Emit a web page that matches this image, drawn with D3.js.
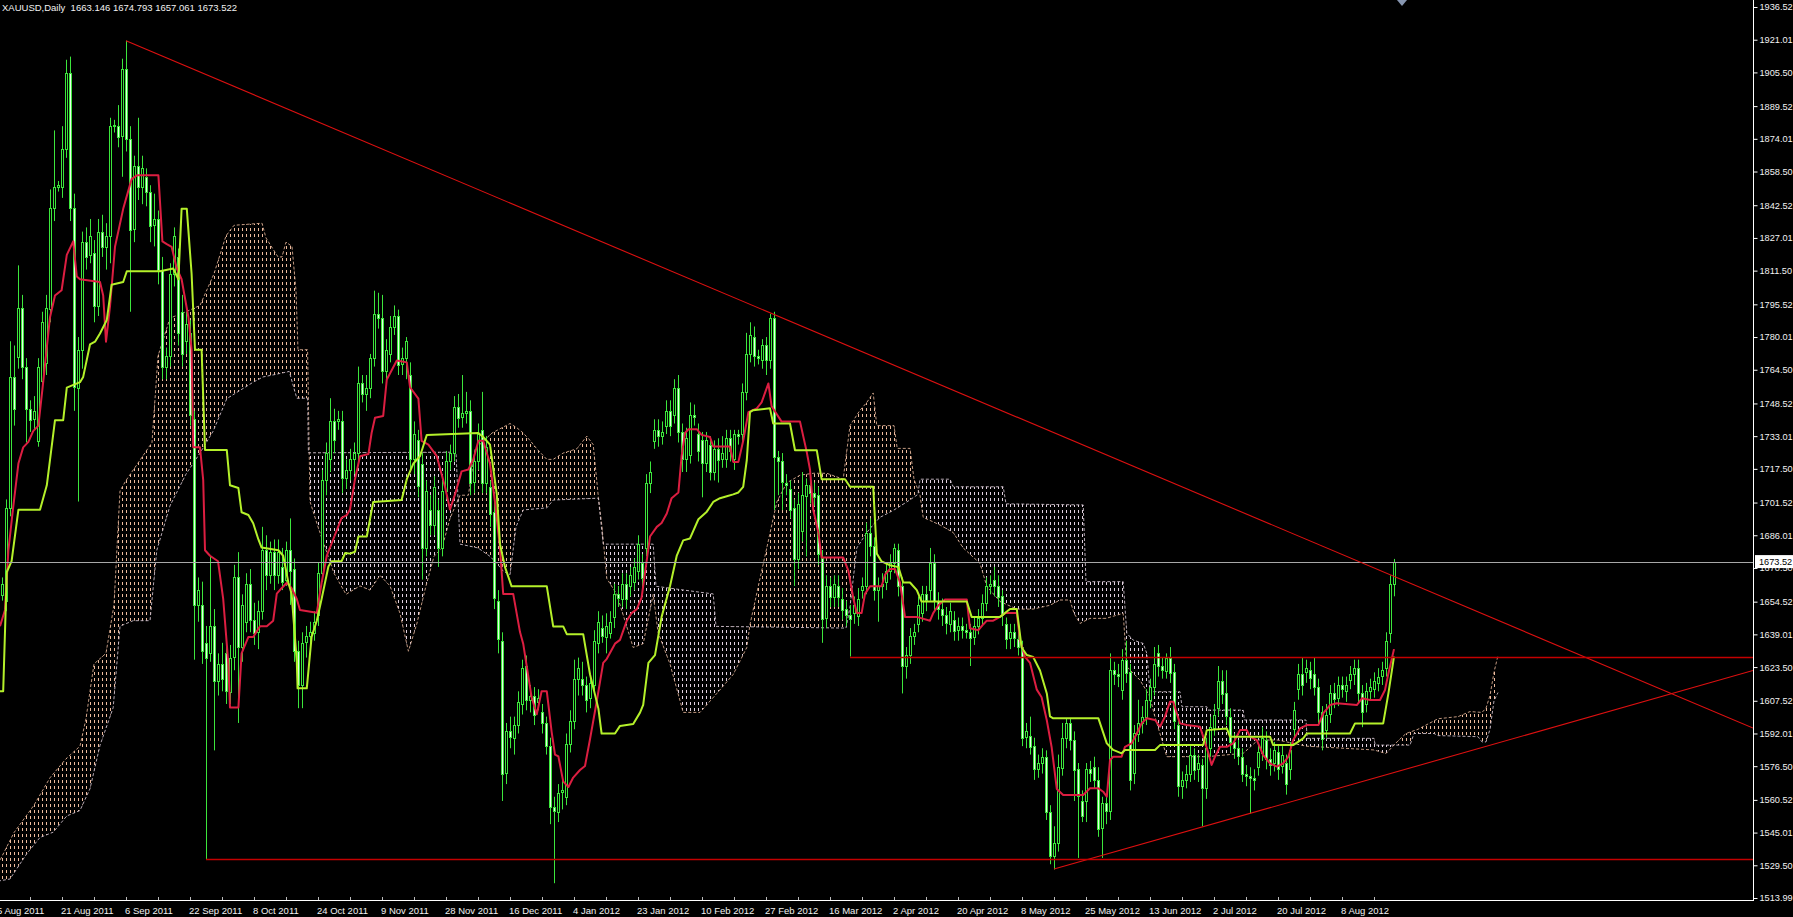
<!DOCTYPE html>
<html><head><meta charset="utf-8">
<script src="https://cdn.jsdelivr.net/npm/d3@7"></script>
<style>html,body{margin:0;padding:0;background:#000;overflow:hidden}svg{display:block}</style>
</head><body><svg id="c" width="1793" height="917"></svg>
<script>
// ---------------- DATA ----------------
const chartTitle = "XAUUSD,Daily  1663.146 1674.793 1657.061 1673.522";
const lastPrice = 1673.52;
const priceTicks = [1936.52,1921.01,1905.50,1889.52,1874.01,1858.50,1842.52,1827.01,1811.50,1795.52,1780.01,1764.50,1748.52,1733.01,1717.50,1701.52,1686.01,1670.50,1654.52,1639.01,1623.50,1607.52,1592.01,1576.50,1560.52,1545.01,1529.50,1513.99];
const dateLabels = ["5 Aug 2011","21 Aug 2011","6 Sep 2011","22 Sep 2011","8 Oct 2011","24 Oct 2011","9 Nov 2011","28 Nov 2011","16 Dec 2011","4 Jan 2012","23 Jan 2012","10 Feb 2012","27 Feb 2012","16 Mar 2012","2 Apr 2012","20 Apr 2012","8 May 2012","25 May 2012","13 Jun 2012","2 Jul 2012","20 Jul 2012","8 Aug 2012"];
const dateLabelBars = [0,16,32,48,64,80,96,112,128,144,160,176,192,208,224,240,256,272,288,304,320,336];

const opens = [
1655,1658,1655,1699,1761,1771,1794,1766,1746,1741,
1731,1759,1768,1793,1841,1851,1851,1869,1905,1841,
1756,1774,1825,1819,1820,1795,1830,1823,1828,1880,
1880,1875,1907,1874,1831,1861,1851,1856,1849,1833,
1836,1812,1766,1771,1810,1818,1792,1778,1782,1741,
1653,1653,1635,1630,1643,1617,1625,1630,1612,1628,
1666,1633,1645,1663,1646,1640,1650,1679,1667,1678,
1667,1671,1665,1679,1670,1631,1615,1635,1638,1640,
1648,1668,1712,1722,1740,1740,1740,1713,1717,1722,
1725,1758,1753,1756,1770,1791,1789,1764,1772,1785,
1790,1767,1770,1762,1722,1731,1720,1680,1698,1691,
1698,1680,1707,1721,1725,1747,1742,1744,1745,1711,
1721,1736,1711,1709,1697,1655,1636,1573,1593,1590,
1596,1606,1624,1608,1610,1607,1602,1597,1586,1557,
1555,1564,1562,1587,1598,1618,1618,1615,1609,1615,
1635,1642,1638,1640,1647,1658,1656,1663,1662,1664,
1669,1673,1680,1711,1731,1736,1733,1738,1745,1743,
1756,1735,1722,1724,1743,1734,1731,1720,1729,1716,
1727,1722,1722,1732,1722,1734,1734,1754,1772,1780,
1770.8,1769,1776,1769,1789,1723,1721,1711,1708,1699,
1675,1688,1705,1710,1706,1705,1675,1647,1662,1657,
1662,1656,1651,1648,1649,1648,1660,1662,1687,1681,
1660,1662,1664,1669,1673,1679,1662,1624,1629,1638,
1644,1649,1658,1660,1673,1655,1651,1648,1644,1646,
1641,1643,1641,1640,1638,1643,1647,1654,1662,1665,
1662,1657,1644,1637,1640,1637,1633,1590,1591,1586,
1575,1578,1581,1555,1534,1540,1576,1590,1597,1589,
1575,1560,1560,1575,1576,1570,1547,1559,1555,1622,
1620,1613,1627,1621,1573,1592,1597,1600,1608,1614,
1630,1624,1622,1628,1621,1596,1567,1570,1573,1582,
1575,1577,1566,1585,1595,1604,1617,1611,1600,1588,
1585,1581,1573,1572,1571,1576,1583,1589,1580,1578,
1583,1577,1578,1575,1594,1613,1620,1621,1622,1620,
1614,1602,1594,1601,1611,1609,1615,1612,1617,1620,
1623,1611,1606,1612,1613,1616,1619,1623,1640,1663.146];
const highs = [
1668,1666,1703,1778,1776,1814,1800,1770,1750,1752,
1770,1792,1800,1850,1878,1854,1880,1911.5,1913,1848,
1780,1830,1832,1836,1826,1836,1838,1834,1884,1883,
1890,1912,1920.5,1880,1866,1884,1866,1860,1852,1848,
1840,1818,1775,1815,1832,1822,1800,1792,1788,1745,
1666,1664,1643,1676,1651,1630,1635,1636,1634,1672,
1678,1658,1668,1670,1654,1655,1690,1686,1683,1684,
1684,1680,1683,1694,1675,1636,1640,1643,1645,1650,
1673,1717,1730,1751,1746,1745,1745,1722,1727,1730,
1766,1762,1762,1772,1802,1801,1800,1779,1790,1795,
1793,1775,1780,1768,1740,1736,1725,1712,1705,1714,
1703,1712,1726,1729,1752,1753,1762,1754,1750,1726,
1739,1754,1733,1712,1702,1660,1640,1597,1600,1600,
1612,1627,1629,1615,1614,1613,1606,1600,1590,1562,
1568,1570,1592,1603,1627,1628,1626,1619,1620,1641,
1650,1648,1649,1650,1663,1662,1668,1668,1671,1675,
1686,1677,1715,1721,1741,1741,1740,1750,1750,1760,
1762,1739,1737,1749,1748,1739,1735,1735,1733,1731,
1732,1733,1736,1736,1736,1736,1758,1782,1787,1785,
1774,1779,1780,1791,1792,1726,1725,1715,1712,1703,
1706,1716,1713,1715,1711,1709,1679,1667,1666,1667,
1667,1661,1655,1653,1657,1661,1666,1692,1694,1685,
1666,1668,1673,1677,1682,1682,1666,1633,1642,1644,
1657,1662,1662,1680,1677,1659,1656,1652,1654,1650,
1647,1647,1644,1644,1647,1651,1658,1666,1667,1671,
1667,1660,1647,1644,1644,1642,1636,1597,1600,1590,
1582,1585,1584,1558,1548,1582,1597,1599,1599,1593,
1578,1565,1578,1579,1581,1576,1562,1563,1630,1626,
1625,1632,1636,1625,1596,1608,1605,1613,1618,1633,
1634,1628,1630,1633,1625,1599,1574,1577,1587,1585,
1582,1580,1590,1600,1606,1624,1622,1622,1604,1592,
1589,1585,1577,1576,1575,1587,1595,1593,1585,1588,
1587,1586,1582,1588,1607,1625,1628,1627,1626,1628,
1618,1605,1606,1615,1616,1619,1619,1619,1624,1627,
1627,1615,1616,1618,1621,1623,1626,1640,1667,1674.793];
const lows = [
1648,1655,1650,1695,1738,1765,1760,1730,1735,1736,
1728,1755,1762,1787,1835,1849,1846,1865,1835,1745,
1702,1765,1812,1815,1787,1790,1818,1812,1815,1877,
1870,1856,1868,1792,1825,1845,1843,1842,1825,1823,
1805,1760,1760,1766,1804,1776,1766,1772,1738,1627,
1645,1625,1532,1626,1584,1610,1612,1606,1606,1622,
1597,1626,1640,1640,1634,1632,1646,1660,1663,1660,
1663,1660,1662,1653,1626,1604,1604,1628,1634,1636,
1643,1664,1705,1716,1725,1736,1706,1708,1712,1715,
1720,1749,1745,1751,1766,1784,1758,1757,1768,1781,
1762,1762,1760,1716,1715,1704,1665,1676,1686,1686,
1671,1676,1703,1717,1721,1737,1737,1739,1705,1706,
1717,1706,1706,1690,1651,1630,1560,1568,1585,1582,
1592,1601,1603,1602,1596,1603,1592,1582,1549,1521,
1550,1556,1558,1583,1594,1610,1610,1602,1604,1611,
1630,1635,1630,1637,1642,1652,1652,1651,1657,1660,
1665,1661,1676,1706,1727,1728,1729,1734,1733,1739,
1730,1716,1716,1720,1738,1721,1704,1716,1712,1712,
1711,1718,1718,1721,1717,1729,1730,1750,1768,1766,
1767,1765,1762,1765,1698,1705,1698,1705,1694,1662,
1670,1683,1676,1701,1700,1672,1635,1642,1652,1652,
1652,1646,1643,1628.5,1644,1643,1656,1658,1676,1655,
1645,1656,1660,1665,1668,1657,1611,1618,1625,1634,
1640,1645,1650,1655,1650,1646,1643,1639,1640,1636,
1636,1637,1637,1624,1634,1639,1643,1650,1658,1657,
1652,1643,1632,1632,1633,1629,1586,1585,1582,1570,
1571,1573,1551,1530,1527.5,1536,1572,1585,1584,1560,
1533,1550,1550,1569,1566,1543,1533,1549,1551,1615,
1614,1608,1616,1565,1568,1588,1592,1596,1604,1610,
1619,1618,1618,1616,1594,1562,1561,1566,1569,1570,
1569,1548,1561,1581,1591,1600,1606,1596,1583,1580,
1577,1569,1567,1554,1565,1572,1579,1575,1572,1574,
1570,1573,1563,1570,1589,1608,1610,1616,1613,1610,
1597,1584,1590,1597,1604,1605,1609,1607,1613,1615,
1606,1595,1602,1608,1609,1612,1615,1619,1635,1657.061];
const closes = [
1660,1663,1699,1761,1746,1794,1766,1746,1741,1745,
1766,1787,1794,1841,1851,1852,1869,1905,1841,1756,
1774,1825,1818,1828,1795,1830,1823,1828,1880,1880.5,
1875,1907,1874,1831,1861,1851,1860,1849,1833,1836,
1812,1766,1771,1810,1828,1782,1772,1786,1743,1653,
1660,1631,1628,1643,1617,1625,1618,1612,1628,1666,
1633,1653,1663,1646,1640,1650,1679,1667,1678,1667,
1678,1664,1679,1669,1631,1615,1635,1638,1640,1645,
1668,1712,1725,1740,1731,1741,1713,1717,1722,1725,
1758,1753,1756,1770,1791,1789,1764,1774,1785,1790,
1767,1770,1778,1722,1734,1709,1680,1707,1691,1709,
1680,1707,1721,1725,1747,1742,1744,1745,1711,1721,
1734,1711,1728,1696,1656,1637,1573,1593,1590,1596,
1607,1623,1608,1610,1601,1609,1597,1586,1557,1555,
1564,1565,1587,1598,1618,1623,1615,1608,1616,1636,
1645,1638,1643,1645,1658,1656,1663,1656,1667,1671,
1682,1666,1711,1716,1736,1733,1735,1745,1738,1756,
1735,1722,1732,1743,1742,1726,1720,1731,1716,1727,
1722,1725,1732,1726,1734,1733,1754,1772,1781,1771,
1770,1776,1769,1789,1723,1721,1711,1710,1698,1675,
1701,1705,1710,1706,1704,1677,1646,1662,1657,1663,
1657,1651,1648,1646,1653,1656,1662,1687,1681,1660,
1662,1663,1669,1673,1680,1662,1624,1629,1638,1640,
1653,1658,1655,1673,1655,1651,1648,1644,1650,1641,
1643,1641,1640,1637,1643,1647,1654,1662,1663,1662,
1657,1648,1637,1640,1637,1633,1590,1593,1586,1575,
1578,1581,1555,1534,1540,1576,1590,1597,1589,1575,
1562,1553,1575,1573,1570,1547,1559,1555,1622,1620,
1619,1627,1621,1570,1592,1597,1600,1608,1614,1625,
1624,1622,1628,1621,1598,1567,1570,1573,1582,1575,
1578,1566,1585,1595,1601,1617,1611,1600,1588,1585,
1581,1573,1572,1571,1570,1583,1590,1580,1577,1584,
1575,1582,1568,1584,1603,1620,1615,1623,1618,1614,
1602,1589,1601,1611,1608,1615,1613,1615,1620,1623,
1611,1602,1612,1614,1617,1619,1622,1636,1663,1673.522];

// Ichimoku lines: [bar, price]
const tenkan = [[0.5,1642.9],[1.75,1650.6],[2.6,1678.9],[3.8,1699.4],[5.1,1720],[6.3,1727.7],[7.6,1730.3],[8.8,1735.4],[10.1,1738],[11.3,1758.6],[13,1789.4],[14.25,1799.7],[15.9,1802.2],[17.2,1819],[18.8,1825.4],[19.7,1808.7],[20.5,1807.4],[25.5,1806.1],[26.3,1799.7],[27,1777.8],[28,1794.5],[29.25,1822.8],[31.3,1840.8],[33.4,1854.9],[34.7,1856.7],[40.1,1856.7],[41.1,1825.4],[42.2,1824.1],[43.4,1822.8],[44.7,1812.5],[45.9,1807.4],[47.6,1789.4],[48.4,1774],[48.8,1727.7],[50.5,1727.7],[51.3,1712.3],[51.75,1678.9],[53,1676.3],[55,1673.7],[56.3,1655.8],[57.6,1624.9],[58,1604.3],[60.1,1604.3],[60.9,1630],[62.6,1637.8],[63.8,1637.8],[65.5,1642.9],[67.2,1642.9],[68.8,1645.5],[69.7,1658.3],[70.9,1660.9],[72.2,1663.5],[73.4,1660.9],[74.7,1655.8],[75.5,1650.6],[79.7,1649.3],[80.9,1663.5],[82.2,1676.3],[83.8,1684],[85.9,1694.3],[87.2,1695.6],[88,1698.2],[89.25,1712.6],[90.5,1723.5],[92.6,1724.5],[93.4,1734.5],[94.25,1741.7],[96.3,1742.6],[97.2,1759.9],[99.7,1768.9],[102.2,1768],[103,1756.2],[105.1,1750.8],[105.9,1730.8],[107.6,1729],[109.7,1723.5],[111.75,1709],[113,1698.2],[114.25,1705.4],[115.9,1716.3],[117.6,1717.2],[118.8,1721.8],[120.1,1730.8],[121.3,1730.8],[123,1719.9],[124.25,1701.8],[125.5,1680],[126.3,1658.2],[128.8,1658.2],[130.5,1640.1],[131.3,1634.6],[132.2,1623.7],[133.4,1609.2],[134.7,1601.1],[135.9,1612],[137.2,1612],[138.4,1592.9],[139.25,1582],[140.1,1581.1],[141.3,1569.3],[142.6,1566.6],[143.8,1571.1],[145.5,1574.7],[146.75,1576.6],[148,1589.3],[149.7,1607.4],[151.3,1625.5],[152.2,1627.4],[154.25,1634.6],[155.5,1636.4],[157.2,1645.5],[158.4,1649.1],[159.7,1651],[160.9,1656.4],[163,1685.4],[164.7,1690],[165.9,1691.8],[167.2,1696.3],[168.4,1703.6],[170.1,1706.3],[170.9,1723.5],[171.75,1734.5],[172.6,1736.3],[174.7,1736.3],[175.9,1733.6],[178,1732.6],[178.8,1728.1],[183,1728.1],[183.8,1720.8],[185.1,1720.8],[186.3,1730.8],[187.6,1744.4],[189.7,1746.2],[190.9,1749],[192.6,1758],[193.4,1747.2],[195.9,1739.9],[200.5,1739.9],[202.2,1725.4],[203,1717.2],[203.8,1698.2],[205.1,1687.3],[205.9,1675.5],[211.3,1675.5],[212.6,1669.1],[213.8,1656.4],[214.7,1649.1],[215.9,1649.1],[216.75,1658.2],[218,1661.8],[220.9,1661.8],[221.75,1667.3],[223,1670],[224.25,1670],[225.5,1663.6],[226.75,1647.3],[229.7,1647.3],[233,1645.5],[233.8,1649.1],[235.1,1652.8],[236.75,1655.5],[242.2,1655.5],[243,1641.9],[245.1,1641],[246.3,1643.7],[247.2,1645.5],[248.8,1645.5],[250.5,1647.3],[251.75,1649.1],[254.7,1649.1],[255.5,1636.4],[256.75,1628.3],[258,1625.5],[259.7,1612.8],[260.9,1609.2],[262.2,1598.3],[263.4,1585.6],[264.7,1565.7],[266.3,1562.8],[271.3,1562.8],[273,1566],[275.1,1566],[276.3,1564.4],[277.2,1562],[278,1579.4],[278.8,1581],[280.9,1581],[281.75,1585.7],[283.4,1587.3],[284.7,1592],[285.9,1596.8],[287.2,1599.2],[289.25,1598.4],[290.5,1595.2],[291.75,1600],[293,1607.1],[293.8,1607.1],[294.7,1601.5],[295.5,1596.8],[297.2,1596],[300.5,1595.2],[301.3,1590.5],[302.6,1582.6],[303.4,1577.1],[304.25,1581],[305.5,1585.7],[307.2,1585.7],[308.8,1587.3],[310.5,1593.6],[312.2,1593.6],[313,1590.5],[314.7,1588.9],[316.3,1581.8],[318,1577.8],[319.7,1576.3],[321.3,1577.8],[322.6,1581],[323.8,1588.9],[325.5,1594.4],[327.2,1596],[330.1,1596],[331.3,1601.5],[333,1605.5],[334.7,1606.3],[339.7,1605.5],[341,1608.7],[343,1607.9],[345.5,1607.9],[346.75,1612.6],[347.6,1620.5],[349,1632]];
const kijun = [[0.5,1612],[1.3,1612],[2.2,1668.6],[3.4,1673.7],[5.1,1698.1],[10.5,1698.1],[12.2,1709.7],[14.25,1740.6],[16.3,1740.6],[17.2,1756],[20.5,1758.6],[21.3,1761.1],[23,1776.5],[24.25,1777.8],[25.5,1781.7],[27.2,1788.1],[28.4,1804.8],[31.3,1806.1],[32.2,1811.2],[40.5,1811.2],[43.8,1812.5],[45.1,1807.4],[45.9,1840.8],[47.2,1840.8],[48.4,1810],[49.25,1774],[50.9,1774],[51.75,1726.4],[57.2,1726.4],[58,1709.7],[60.1,1708.4],[60.9,1696.9],[62.6,1695.6],[63.8,1691.7],[65.1,1684],[65.9,1680.2],[70.1,1678.9],[71.3,1676.3],[72.6,1663.5],[73.4,1658.3],[74.7,1626.2],[74.9,1613.4],[77.2,1613.4],[78.4,1637.8],[79.7,1645.5],[80.9,1655.8],[82.6,1671.2],[83.4,1673.7],[85.9,1673.7],[86.8,1677.6],[88,1677.3],[89.25,1678.2],[90.1,1685.4],[92.2,1685.4],[93.8,1701.8],[100.9,1702.7],[102.2,1712.6],[103.8,1719.9],[105.5,1723.5],[107.2,1733.6],[120.1,1734.5],[121.3,1732.6],[123,1729],[124.7,1705.4],[125.5,1681.8],[126.75,1670.9],[128.4,1661.8],[137.2,1661.8],[138.8,1642.8],[141.3,1642.8],[142.2,1639.1],[146.3,1639.1],[148,1620.1],[150.1,1603.8],[150.9,1592],[154.25,1592],[155.5,1595.6],[158.8,1596.5],[160.5,1601.9],[161.3,1605.6],[162.6,1625.5],[164.25,1629.2],[165.9,1647.3],[168,1661.8],[169.7,1676.4],[171.3,1683.6],[173,1684.5],[175.1,1693.6],[177.2,1697.2],[178.8,1701.8],[180.5,1703.6],[182.2,1704.5],[183.8,1705.4],[185.1,1706.3],[186.3,1709],[187.2,1721.7],[188,1744.4],[188.8,1745.3],[193,1746.2],[193.8,1739],[198,1739],[199.25,1726.3],[204.7,1726.3],[205.9,1712.6],[211.75,1712.6],[213,1709],[218.8,1709],[219.7,1677.3],[220.9,1673.6],[223,1671.8],[225.1,1670.9],[226.3,1663.6],[228,1663.6],[229.7,1660],[230.9,1654.6],[242.2,1654.6],[243.4,1647.3],[250.5,1647.3],[251.75,1649.1],[253,1651],[254.7,1651],[255.9,1632.8],[257.2,1629.2],[258.8,1628.3],[260.5,1621.9],[262.2,1611],[263,1600.1],[263.8,1599.2],[275.1,1599.2],[277.2,1587.3],[278.8,1584.2],[280.9,1582.6],[281.75,1584.2],[289.25,1584.2],[290.5,1586.5],[301.3,1586.5],[302.2,1593.6],[307.2,1594.4],[308,1590.5],[318,1590.5],[318.8,1586.5],[323.8,1586.5],[326.3,1589.7],[327.2,1592],[338,1592],[339.25,1596.8],[346.3,1596.8],[347.6,1611],[349,1628.5]];
const senkouA = [[0,1530],[4,1545],[9,1558],[13,1571],[17,1580],[20.5,1586],[22,1599],[24,1625],[27,1630],[29,1653],[30.5,1707],[32,1712],[36,1723],[38.5,1730],[40,1771],[43,1789],[47,1792],[50.5,1795],[54,1810],[57,1828],[59,1833],[66,1834],[67,1827],[70,1818],[71,1818],[72,1825],[73.5,1823],[74.5,1802],[75,1774],[77.4,1774],[78,1702],[80,1690],[84,1668],[87,1658],[90.5,1662],[93,1660],[95.5,1667],[98,1662],[100.5,1649],[102.6,1631],[104.7,1644],[107,1662],[109,1676],[111,1680],[113,1694],[115.5,1705],[117.6,1705],[119.3,1727],[123.5,1734.5],[128,1739],[129.7,1737],[131.3,1734.5],[133,1731],[134.7,1727],[137.2,1722],[138.8,1722],[141.3,1725],[144.7,1727],[147.2,1733],[148.8,1729],[150.1,1704],[151,1690],[152.2,1665.5],[154.7,1658],[158.8,1632.8],[161.3,1634.6],[163.8,1658],[165,1640],[168,1625],[171.3,1602],[175.5,1602],[179.7,1611],[183.8,1620],[187.2,1632.8],[188,1643.7],[190.5,1665.5],[192.2,1680],[194.7,1701.8],[197.2,1710.9],[200.5,1714.5],[203.8,1715.4],[207.2,1715.4],[211.3,1712.6],[213,1738],[215.5,1745.3],[217.2,1749],[218.8,1753.5],[219.7,1738],[224,1738],[224.8,1727.2],[228,1727.2],[229,1712.6],[230.5,1705],[231.3,1694.5],[235.5,1690.9],[238.8,1687.3],[241.3,1680],[245.5,1672.7],[247.2,1661.8],[250.5,1654.6],[254.7,1651],[258.8,1651],[263,1652.8],[265.5,1655.3],[268,1655.3],[269,1649],[270.5,1644.2],[273,1646.6],[277,1646.6],[281.3,1649],[282.2,1623.7],[285.5,1617.3],[288,1609.5],[289,1601.5],[292.2,1581],[302.2,1581],[311.3,1582.6],[315,1588.9],[320,1588.9],[327,1586],[344,1584.2],[347,1582.5],[350,1588.5],[352,1592],[355,1594],[360,1599],[365,1600],[368,1602.4],[371,1602],[372,1604],[373,1610],[374,1621],[375,1629]];
const senkouB = [[0,1522],[3,1523],[7.2,1535],[10.5,1542.7],[13.8,1545.2],[17.2,1552.9],[20.5,1555.5],[23,1565.8],[25.5,1586.4],[28.8,1604.3],[30.5,1642.9],[33.8,1645.5],[38,1645.5],[39.7,1678.9],[43,1700],[47,1715],[50.5,1725],[53.8,1735.4],[57.2,1750.8],[63.8,1758.6],[66.3,1761.1],[69.7,1762.4],[72.8,1763.7],[74.7,1751],[77.4,1751],[77.6,1725.1],[114.5,1725.4],[115.5,1681.8],[120,1680],[123,1676],[124.7,1672.7],[126.3,1669],[128,1667.3],[129.5,1690],[131.3,1698],[137.2,1699],[138.8,1702.7],[150.1,1703.6],[151.3,1681.8],[163.8,1681.8],[164.5,1661.8],[175.5,1659],[178.8,1658.2],[179.5,1642.8],[212,1642],[213,1652],[214.7,1680],[217.2,1687.3],[218.8,1691],[220.5,1694.5],[224,1698],[227.2,1701.8],[230,1705.4],[230.5,1712.6],[238,1712.6],[238.8,1709],[251.3,1709],[252,1700.9],[271.3,1700.4],[272,1664],[281.3,1664],[282.2,1639.5],[283.8,1636.3],[286.3,1634.7],[287.2,1630],[288,1611.8],[295.5,1611.8],[296,1604.7],[302.2,1604.7],[302.5,1603.1],[311.3,1603.1],[311.6,1598.4],[327,1598.4],[327.3,1589.7],[344,1589.7],[344.3,1586.5],[353,1586.5],[354,1592],[359,1592],[360,1591],[370,1590.5],[371,1588],[372,1588],[373,1594],[374,1607.5],[375,1611.4]];

// drawn objects: anchors [bar, price]
const trendDown = [[32,1920.5],[194,1790.7]];
const trendUp = [[264,1527.7],[313,1554.1]];
const supportLine = [[52,1532.3]];
const resistanceLine = [[213,1628.4]];
const shiftMarkerBar = 351;

// ---------------- DRAW ----------------
const W = 1793, H = 917, plotRight = 1753, plotBottom = 900;
const FONT = "Liberation Sans, Arial, sans-serif";
const C = {bg:"#000", candle:"#3ce63c", bear:"#e6ffe6", tenkan:"#dc1e41", kijun:"#b4f02a",
  cloudA:"#eebc9e", cloudB:"#e2d2e0", trend:"#dd1010", hline:"#c40000", price:"#a8a8a8", axis:"#ffffff", text:"#f2f2f2"};
const barCount = opens.length;
const lastBarEdge = 438.75;

const svg = d3.select("#c");
const x = d3.scaleLinear().domain([0, lastBarEdge]).range([-2, plotRight]);
const y = d3.scaleLinear().domain([1513.99, 1936.52]).range([898, 7]);

svg.append("rect").attr("width", W).attr("height", H).attr("fill", C.bg);
const defs = svg.append("defs");
defs.append("clipPath").attr("id","plotClip").append("rect")
  .attr("x",0).attr("y",0).attr("width",plotRight).attr("height",plotBottom);
function hatch(id, color){
  const p = defs.append("pattern").attr("id",id).attr("patternUnits","userSpaceOnUse")
    .attr("x",0).attr("y",0).attr("width",4).attr("height",6);
  p.append("rect").attr("x",2).attr("y",0).attr("width",1).attr("height",3).attr("fill",color);
}
hatch("hatchA", C.cloudA); hatch("hatchB", C.cloudB);

const lineGen = d3.line().x(d => x(d[0])).y(d => y(d[1]));
const bStart = senkouB[0][0], bEnd = senkouB[senkouB.length-1][0];
defs.append("clipPath").attr("id","aboveB").append("path")
  .attr("d", lineGen(senkouB) + `L${x(bEnd)},-20L${x(bStart)},-20Z`);
defs.append("clipPath").attr("id","belowB").append("path")
  .attr("d", lineGen(senkouB) + `L${x(bEnd)},1000L${x(bStart)},1000Z`);

const plot = svg.append("g").attr("clip-path","url(#plotClip)");

// cloud
const cloudPath = lineGen(senkouA.concat(senkouB.slice().reverse())) + "Z";
plot.append("g").attr("clip-path","url(#aboveB)").append("path")
  .attr("d", cloudPath).attr("fill","url(#hatchA)").attr("fill-rule","evenodd");
plot.append("g").attr("clip-path","url(#belowB)").append("path")
  .attr("d", cloudPath).attr("fill","url(#hatchB)").attr("fill-rule","evenodd");
plot.append("path").attr("d", lineGen(senkouA)).attr("fill","none").attr("opacity",0.8)
  .attr("stroke", C.cloudA).attr("stroke-width",1).attr("stroke-dasharray","3,2");
plot.append("path").attr("d", lineGen(senkouB)).attr("fill","none").attr("opacity",0.8)
  .attr("stroke", C.cloudB).attr("stroke-width",1).attr("stroke-dasharray","3,2");

// candles
const bars = d3.range(barCount);
const cg = plot.append("g");
cg.selectAll("line.wick").data(bars).join("line")
  .attr("x1", i => Math.round(x(i)) + 0.5).attr("x2", i => Math.round(x(i)) + 0.5)
  .attr("y1", i => y(highs[i])).attr("y2", i => y(lows[i]))
  .attr("stroke", C.candle).attr("stroke-width", 1);
cg.selectAll("rect.body").data(bars).join("rect")
  .attr("x", i => Math.round(x(i)) - 0.5).attr("width", 2)
  .attr("y", i => Math.round(y(Math.max(opens[i], closes[i]))) + 0.5)
  .attr("height", i => Math.max(1, Math.round(Math.abs(y(opens[i]) - y(closes[i])))))
  .attr("fill", i => closes[i] >= opens[i] ? "#000" : C.bear)
  .attr("stroke", C.candle).attr("stroke-width", 1);

// Ichimoku lines
plot.append("path").attr("d", lineGen(tenkan)).attr("fill","none")
  .attr("stroke", C.tenkan).attr("stroke-width",2).attr("stroke-linejoin","round");
plot.append("path").attr("d", lineGen(kijun)).attr("fill","none")
  .attr("stroke", C.kijun).attr("stroke-width",2).attr("stroke-linejoin","round");

// price line
plot.append("line").attr("x1",0).attr("x2",plotRight)
  .attr("y1", Math.round(y(lastPrice))+0.5).attr("y2", Math.round(y(lastPrice))+0.5)
  .attr("stroke", C.price).attr("stroke-width",1);

// trend lines (rays extended to the right edge)
function extend(a){ const s=(a[1][1]-a[0][1])/(a[1][0]-a[0][0]); return [a[0],[lastBarEdge, a[0][1]+s*(lastBarEdge-a[0][0])]]; }
[trendDown, trendUp].forEach(a => {
  plot.append("path").attr("d", lineGen(extend(a))).attr("fill","none")
    .attr("stroke", C.trend).attr("stroke-width",1.1);
});
[supportLine, resistanceLine].forEach(a => {
  const yy = Math.round(y(a[0][1])) + 0.5;
  plot.append("line").attr("x1", x(a[0][0])).attr("x2", plotRight).attr("y1", yy).attr("y2", yy)
    .attr("stroke", C.hline).attr("stroke-width",1.6);
});

// axes
svg.append("line").attr("x1",plotRight+0.5).attr("x2",plotRight+0.5).attr("y1",0).attr("y2",plotBottom+1)
  .attr("stroke",C.axis).attr("stroke-width",1);
svg.append("line").attr("x1",0).attr("x2",plotRight+1).attr("y1",plotBottom+0.5).attr("y2",plotBottom+0.5)
  .attr("stroke",C.axis).attr("stroke-width",1);

const yAxis = d3.axisRight(y).tickValues(priceTicks).tickFormat(d3.format(".2f")).tickSize(4).tickPadding(2);
const ya = svg.append("g").attr("transform",`translate(${plotRight+0.5},0)`).call(yAxis);
ya.select(".domain").remove();
ya.selectAll("line").attr("stroke",C.axis);
ya.selectAll("text").attr("fill",C.text).attr("font-family",FONT).attr("font-size","9.2px");

// current price label
const py = y(lastPrice);
svg.append("rect").attr("x",plotRight+2).attr("y",py-6.5).attr("width",40).attr("height",13).attr("fill","#fff");
svg.append("text").attr("x",plotRight+6).attr("y",py+3.5).text(d3.format(".2f")(lastPrice))
  .attr("fill","#000").attr("font-family",FONT).attr("font-size","9.2px");

// time axis
const minorTicks = d3.range(0, barCount, 8);
const xa = svg.append("g").attr("transform",`translate(0,${plotBottom})`)
  .call(d3.axisBottom(x).tickValues(minorTicks).tickSize(-3).tickFormat(""));
xa.select(".domain").remove();
xa.selectAll("line").attr("stroke","#bbbbbb");
svg.append("g").selectAll("text").data(dateLabelBars).join("text")
  .attr("x", d => x(d) - 1).attr("y", 914)
  .text((d,i) => dateLabels[i])
  .attr("fill",C.text).attr("font-family",FONT).attr("font-size","9.5px");

// title
svg.append("text").attr("x",2).attr("y",10.5).attr("xml:space","preserve").style("white-space","pre")
  .text(chartTitle).attr("fill",C.text).attr("font-family",FONT).attr("font-size","9.5px");

// chart shift marker
const sx = x(shiftMarkerBar);
svg.append("path").attr("d",`M${sx-5},0L${sx+5},0L${sx},6Z`).attr("fill","#8796b0");
</script></body></html>
